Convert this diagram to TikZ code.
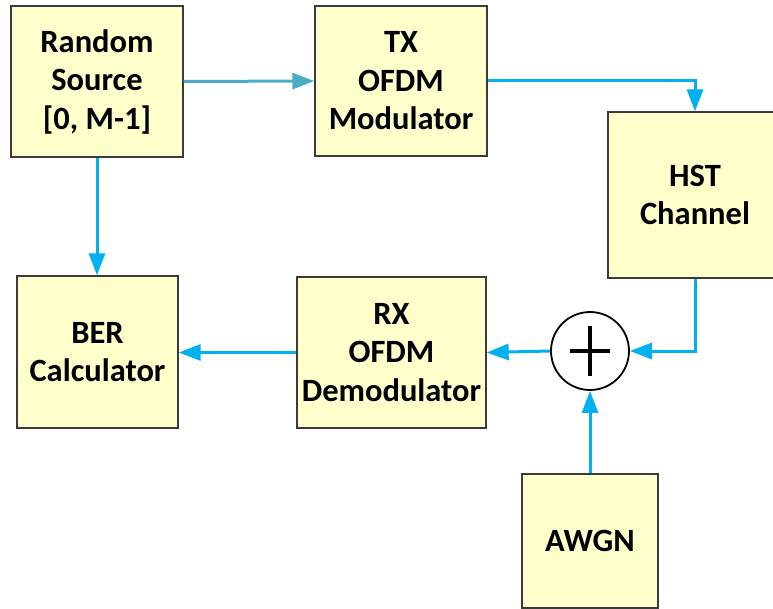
\documentclass[tikz,border=0pt]{standalone}
\usepackage{fontspec}
\setmainfont{Carlito}
\usetikzlibrary{arrows.meta}
\definecolor{boxfill}{HTML}{FFFFCC}
\definecolor{boxedge}{HTML}{3A3A3A}
\definecolor{sigblue}{HTML}{00B0F0}
\definecolor{sigteal}{HTML}{4BACC6}
\tikzset{
  block/.style={draw=boxedge, line width=1.3pt, fill=boxfill, align=center,
    inner sep=0pt, font=\fontsize{32.5}{38.5}\selectfont\bfseries},
  sig/.style={draw=sigblue, line width=3pt, -{Triangle[length=22pt,width=16pt]}},
  sigt/.style={sig, draw=sigteal},
}
\begin{document}
\begin{tikzpicture}[x=1pt, y=-1pt]
\useasboundingbox (0,0) rectangle (773,609);
\clip (0,0) rectangle (773,609);
% processing blocks
\node[block, minimum width=172pt, minimum height=151pt] (src) at (97,81.5) {Random\\Source\\{[0, M-1]}};
\node[block, minimum width=172pt, minimum height=150pt] (tx) at (401,81) {TX\\OFDM\\Modulator};
\node[block, minimum width=174pt, minimum height=166pt] (hst) at (695,195) {HST\\Channel};
\node[block, minimum width=161pt, minimum height=152pt] (ber) at (97.5,352) {BER\\Calculator};
\node[block, minimum width=189pt, minimum height=151pt] (rx) at (391.5,352.5) {RX\\OFDM\\Demodulator};
\node[block, minimum width=136pt, minimum height=134pt] (awgn) at (590,541) {AWGN};
% summing junction
\node[draw=black, line width=1.8pt, fill=white, circle, minimum size=78pt, inner sep=0pt] (sum) at (590,351) {};
\draw[line width=3.2pt] ([xshift=-20pt]sum.center) -- ([xshift=20pt]sum.center);
\draw[line width=3.2pt] ([yshift=-25pt]sum.center) -- ([yshift=25pt]sum.center);
% signal paths
\draw[sigt] (src.east) -- (tx.west);
\draw[sig] (tx.east) -| (hst.north);
\draw[sig] (src.south) -- (src.south |- ber.north);
\draw[sig] (hst.south) |- (sum.east);
\draw[sig] (sum.west) -- (rx.east);
\draw[sig] (rx.west) -- (rx.west -| ber.east);
\draw[sig] (awgn.north) -- (sum.south);
\end{tikzpicture}
\end{document}
